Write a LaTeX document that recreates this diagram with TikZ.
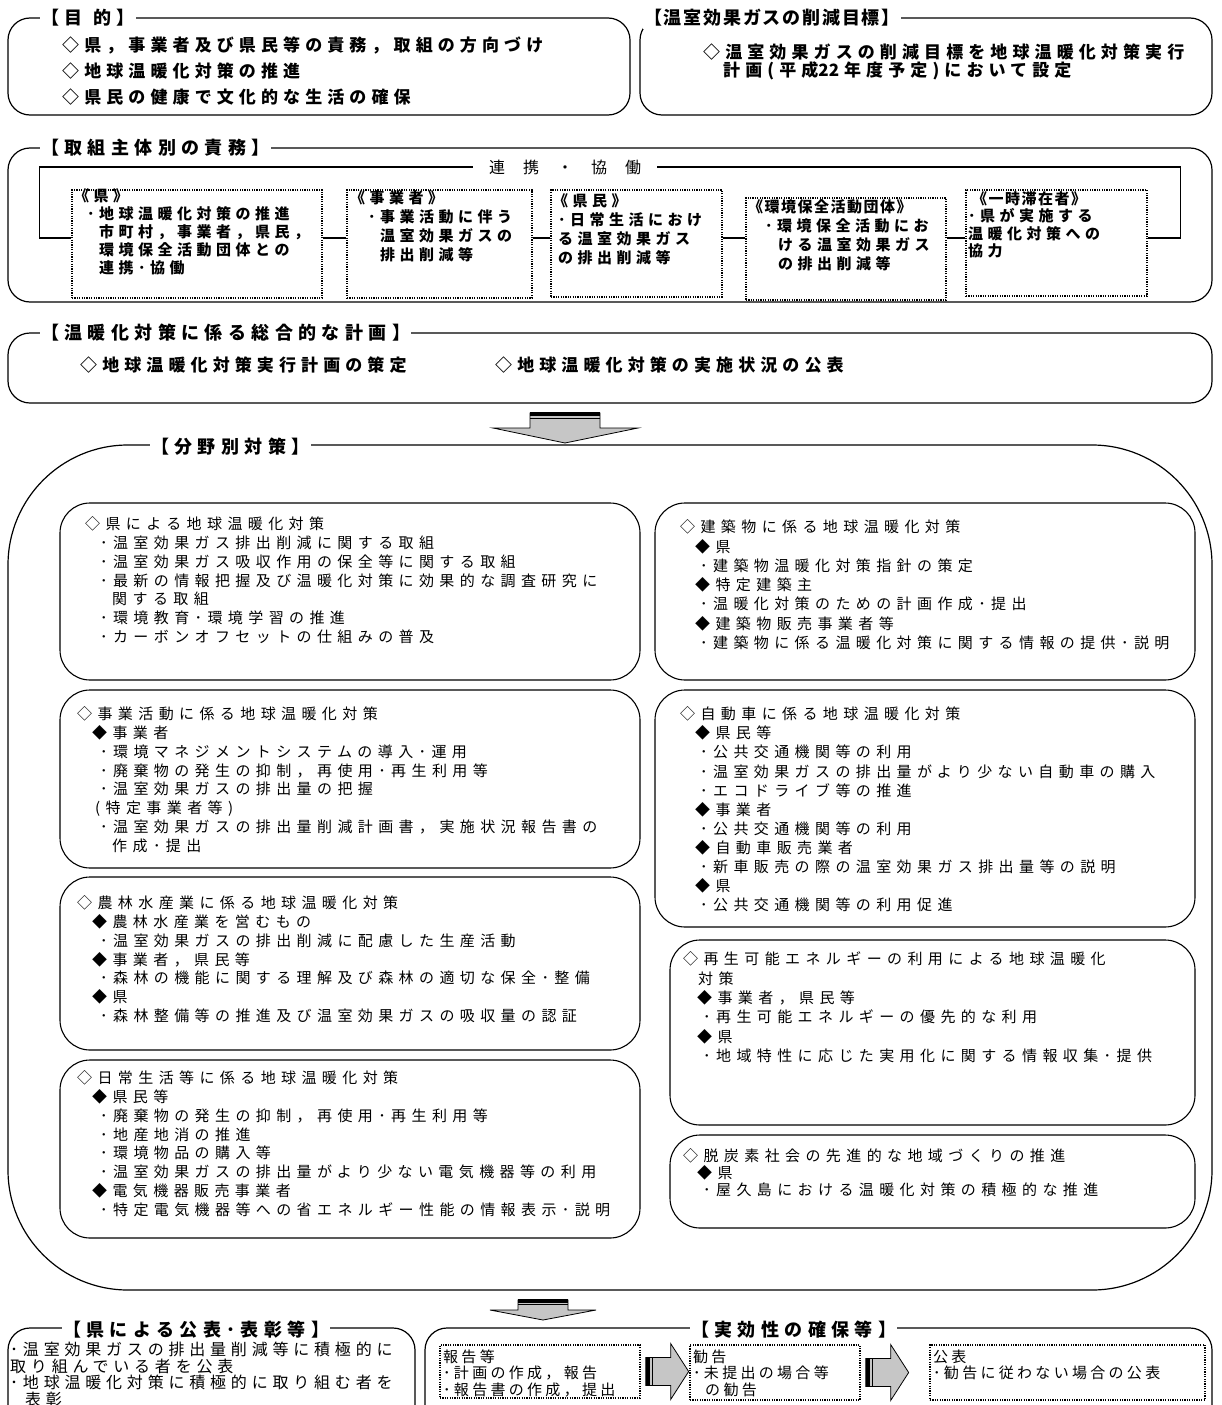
\documentclass[tikz,border=0pt]{standalone}
\usepackage{fontspec}
\setmainfont{Noto Sans CJK JP}
\newfontfamily\jpwide[LetterSpace=30]{Noto Sans CJK JP}
\newfontfamily\jpnarrow[LetterSpace=10]{Noto Sans CJK JP}
\newfontfamily\jpbody[LetterSpace=36]{Noto Sans CJK JP}
\newfontfamily\jpsmall[LetterSpace=22]{Noto Sans CJK JP}
\newfontfamily\jptight{Noto Sans CJK JP}
\usetikzlibrary{positioning,calc}
\tikzset{
  panel/.style={draw, line width=1.2pt, rounded corners=22pt, inner sep=0pt},
  bigpanel/.style={draw, line width=1.2pt, rounded corners=120pt, inner sep=0pt},
  sub/.style={draw, line width=1.1pt, rounded corners=30pt, inner sep=0pt},
  dotbox/.style={draw, line width=1.3pt, dash pattern=on 1.2pt off 1.2pt, inner sep=0pt},
  ttl/.style={fill=white, anchor=west, inner xsep=1pt, inner ysep=2pt,
    font=\jpwide\bfseries\fontsize{18}{20}\selectfont},
  headtxt/.style={anchor=north west, inner sep=0pt, align=left,
    font=\jpwide\bfseries\fontsize{17}{26}\selectfont},
  roletxt/.style={anchor=north west, inner sep=0pt, align=left,
    font=\jpwide\bfseries\fontsize{15}{18}\selectfont},
  bodytxt/.style={anchor=north west, inner sep=0pt, align=left,
    font=\jpbody\fontsize{15}{18.8}\selectfont},
  smalltxt/.style={anchor=north west, inner sep=0pt, align=left,
    font=\jpsmall\fontsize{15}{16.5}\selectfont},
  conn/.style={line width=1.2pt},
  blockarrow/.style={fill=gray!45, draw, line width=0.8pt, line join=miter},
}
% block arrow pointing right, tail at #1
\newcommand{\sidearrow}[1]{%
  \begin{scope}[shift={(#1)}]
    \filldraw[blockarrow] (5,-14) -- (30,-14) -- (30,-28) -- (48,0) -- (30,28) -- (30,14) -- (5,14) -- cycle;
    \fill (5,-14) rectangle (9.5,14);
    \draw[line width=0.8pt] (12,-14) -- (12,14);
  \end{scope}}

\begin{document}
\begin{tikzpicture}[x=1pt,y=-1pt]
\useasboundingbox (0,0) rectangle (1222,1405);
\clip (0,0) rectangle (1222,1405);

% ---------- purpose / target ----------
\node[panel, minimum width=622pt, minimum height=97pt] (aim) at (319,66.5) {};
\node[ttl] (aimttl) at (40,18) {【目\hspace{0.6em}的】\hspace{1.2em}};
\node[headtxt] (aimtxt) at (62,37)
  {◇県，事業者及び県民等の責務，取組の方向づけ\\◇地球温暖化対策の推進\\◇県民の健康で文化的な生活の確保};

\node[panel, minimum width=572pt, minimum height=97pt] (goal) at (926,66.5) {};
\node[ttl, font=\jpnarrow\bfseries\fontsize{18}{20}\selectfont] (goalttl) at (643,18)
  {【温室効果ガスの削減目標】\hspace{2.5em}};
\node[headtxt, font=\jpwide\bfseries\fontsize{17}{16}\selectfont] (goaltxt) at (703,43.5)
  {◇温室効果ガスの削減目標を地球温暖化対策実行\\\hspace*{20pt}計画(平成{\jptight 22}\hspace{5pt}年度予定)において設定};

% ---------- roles ----------
\node[panel, minimum width=1204pt, minimum height=154pt] (roles) at (610,225) {};
\node[ttl] (rolesttl) at (40,148) {【取組主体別の責務】};
\node[font=\fontsize{16}{18}\selectfont, inner xsep=16pt] (renkei) at (565,167)
  {連\hspace{18pt}携\hspace{18pt}・\hspace{18pt}協\hspace{18pt}働};

\node[dotbox, minimum width=250pt, minimum height=108pt] (pref)  at (197,244) {};
\node[dotbox, minimum width=185pt, minimum height=108pt] (biz)   at (439.5,244) {};
\node[dotbox, minimum width=171pt, minimum height=107pt] (cit)   at (636.5,243.5) {};
\node[dotbox, minimum width=200pt, minimum height=102pt] (env)   at (846,249) {};
\node[dotbox, minimum width=181pt, minimum height=106pt] (visit) at (1056.5,243) {};

\node[roletxt] (preftxt) at (74,188.5)
  {《県》\\\hspace*{13pt}･地球温暖化対策の推進\\\hspace*{25pt}市町村，事業者，県民，\\\hspace*{25pt}環境保全活動団体との\\\hspace*{25pt}連携･協働};
\node[roletxt, font=\jpwide\bfseries\fontsize{15}{19}\selectfont] (biztxt) at (350,190.5)
  {《事業者》\\\hspace*{18pt}･事業活動に伴う\\\hspace*{30pt}温室効果ガスの\\\hspace*{30pt}排出削減等};
\node[roletxt, font=\jpwide\bfseries\fontsize{15}{19}\selectfont] (cittxt) at (553,193.5)
  {《県民》\\\hspace*{5pt}･日常生活におけ\\\hspace*{5pt}る温室効果ガス\\\hspace*{5pt}の排出削減等};
\node[roletxt, font=\jpwide\bfseries\fontsize{15}{19}\selectfont] (envtxt) at (748,199.5)
  {{\jpnarrow《環境保全活動団体》}\\\hspace*{17pt}･環境保全活動にお\\\hspace*{30pt}ける温室効果ガス\\\hspace*{30pt}の排出削減等};
\node[roletxt, font=\jpwide\bfseries\fontsize{15}{17.3}\selectfont] (visittxt) at (968,191.5)
  {\hspace*{4pt}{\jpnarrow《一時滞在者》}\\･県が実施する\\温暖化対策への\\協力};

\coordinate (lane) at (0,238);
\draw[conn] (pref.east |- lane) -- (biz.west |- lane);
\draw[conn] (biz.east |- lane) -- (cit.west |- lane);
\draw[conn] (cit.east |- lane) -- (env.west |- lane);
\draw[conn] (env.east |- lane) -- (visit.west |- lane);
\draw[conn] (pref.west |- lane) -- ++(-32,0) |- (renkei.west);
\draw[conn] (visit.east |- lane) -- ++(33,0) |- (renkei.east);

% ---------- overall plan ----------
\node[panel, minimum width=1204pt, minimum height=70pt] (plan) at (610,368) {};
\node[ttl] (planttl) at (40,333) {【温暖化対策に係る総合的な計画】\hspace{1em}};
\node[headtxt] (plan1) at (80,357) {◇地球温暖化対策実行計画の策定};
\node[headtxt] (plan2) at (495,357) {◇地球温暖化対策の実施状況の公表};

% down arrow
\filldraw[blockarrow] (530,413) -- (600,413) -- (600,428) -- (638,428) -- (565,443) -- (493,428) -- (530,428) -- cycle;
\fill (530,412) rectangle (600,416);
\draw[line width=0.8pt] (530,418.5) -- (600,418.5);

% ---------- measures by field ----------
\node[bigpanel, minimum width=1204pt, minimum height=845pt] (fields) at (610,867.5) {};
\node[ttl] (fieldsttl) at (150,447) {【分野別対策】};

\node[sub, minimum width=580pt, minimum height=177pt] (prefm)  at (350,591.5) {};
\node[sub, minimum width=580pt, minimum height=178pt] (bizm)   at (350,779) {};
\node[sub, minimum width=580pt, minimum height=173pt] (agri)   at (350,963.5) {};
\node[sub, minimum width=580pt, minimum height=178pt] (life)   at (350,1149) {};
\node[sub, minimum width=540pt, minimum height=177pt] (bldg)   at (925,591.5) {};
\node[sub, minimum width=540pt, minimum height=237pt] (car)    at (925,808.5) {};
\node[sub, minimum width=525pt, minimum height=185pt] (renew)  at (932.5,1032.5) {};
\node[sub, minimum width=525pt, minimum height=93pt]  (decarb) at (932.5,1181.5) {};

\node[bodytxt] (prefmtxt) at (85,516.5)
  {◇県による地球温暖化対策\\
   \hspace*{15pt}･温室効果ガス排出削減に関する取組\\
   \hspace*{15pt}･温室効果ガス吸収作用の保全等に関する取組\\
   \hspace*{15pt}･最新の情報把握及び温暖化対策に効果的な調査研究に\\
   \hspace*{27pt}関する取組\\
   \hspace*{15pt}･環境教育･環境学習の推進\\
   \hspace*{15pt}･カーボンオフセットの仕組みの普及};
\node[bodytxt] (bizmtxt) at (77,706.5)
  {◇事業活動に係る地球温暖化対策\\
   \hspace*{15pt}◆事業者\\
   \hspace*{23pt}･環境マネジメントシステムの導入･運用\\
   \hspace*{23pt}･廃棄物の発生の抑制，再使用･再生利用等\\
   \hspace*{23pt}･温室効果ガスの排出量の把握\\
   \hspace*{18pt}(特定事業者等)\\
   \hspace*{23pt}･温室効果ガスの排出量削減計画書，実施状況報告書の\\
   \hspace*{35pt}作成･提出};
\node[bodytxt] (agritxt) at (77,895.5)
  {◇農林水産業に係る地球温暖化対策\\
   \hspace*{15pt}◆農林水産業を営むもの\\
   \hspace*{23pt}･温室効果ガスの排出削減に配慮した生産活動\\
   \hspace*{15pt}◆事業者，県民等\\
   \hspace*{23pt}･森林の機能に関する理解及び森林の適切な保全･整備\\
   \hspace*{15pt}◆県\\
   \hspace*{23pt}･森林整備等の推進及び温室効果ガスの吸収量の認証};
\node[bodytxt] (lifetxt) at (77,1070.5)
  {◇日常生活等に係る地球温暖化対策\\
   \hspace*{15pt}◆県民等\\
   \hspace*{23pt}･廃棄物の発生の抑制，再使用･再生利用等\\
   \hspace*{23pt}･地産地消の推進\\
   \hspace*{23pt}･環境物品の購入等\\
   \hspace*{23pt}･温室効果ガスの排出量がより少ない電気機器等の利用\\
   \hspace*{15pt}◆電気機器販売事業者\\
   \hspace*{23pt}･特定電気機器等への省エネルギー性能の情報表示･説明};
\node[bodytxt, font=\jpbody\fontsize{15}{19.3}\selectfont] (bldgtxt) at (680,519.5)
  {◇建築物に係る地球温暖化対策\\
   \hspace*{15pt}◆県\\
   \hspace*{20pt}･建築物温暖化対策指針の策定\\
   \hspace*{15pt}◆特定建築主\\
   \hspace*{20pt}･温暖化対策のための計画作成･提出\\
   \hspace*{15pt}◆建築物販売事業者等\\
   \hspace*{20pt}･建築物に係る温暖化対策に関する情報の提供･説明};
\node[bodytxt, font=\jpbody\fontsize{15}{19.1}\selectfont] (cartxt) at (680,706.5)
  {◇自動車に係る地球温暖化対策\\
   \hspace*{15pt}◆県民等\\
   \hspace*{20pt}･公共交通機関等の利用\\
   \hspace*{20pt}･温室効果ガスの排出量がより少ない自動車の購入\\
   \hspace*{20pt}･エコドライブ等の推進\\
   \hspace*{15pt}◆事業者\\
   \hspace*{20pt}･公共交通機関等の利用\\
   \hspace*{15pt}◆自動車販売業者\\
   \hspace*{20pt}･新車販売の際の温室効果ガス排出量等の説明\\
   \hspace*{15pt}◆県\\
   \hspace*{20pt}･公共交通機関等の利用促進};
\node[bodytxt, font=\jpbody\fontsize{15}{19.4}\selectfont] (renewtxt) at (683,951.5)
  {◇再生可能エネルギーの利用による地球温暖化\\
   \hspace*{15pt}対策\\
   \hspace*{14pt}◆事業者，県民等\\
   \hspace*{20pt}･再生可能エネルギーの優先的な利用\\
   \hspace*{14pt}◆県\\
   \hspace*{20pt}･地域特性に応じた実用化に関する情報収集･提供};
\node[bodytxt, font=\jpbody\fontsize{15}{17}\selectfont] (decarbtxt) at (683,1148.5)
  {◇脱炭素社会の先進的な地域づくりの推進\\
   \hspace*{14pt}◆県\\
   \hspace*{20pt}･屋久島における温暖化対策の積極的な推進};

% down arrow
\filldraw[blockarrow] (518,1300) -- (568,1300) -- (568,1310) -- (596,1310) -- (543,1320) -- (490,1310) -- (518,1310) -- cycle;
\fill (518,1299) rectangle (568,1302.5);
\draw[line width=0.8pt] (518,1304.5) -- (568,1304.5);

% ---------- publication / effectiveness ----------
\node[panel, minimum width=407pt, minimum height=110pt] (award) at (211.5,1383) {};
\node[ttl] (awardttl) at (62,1330) {【県による公表･表彰等】\hspace{1.5em}};
\node[smalltxt, font=\jpwide\fontsize{16}{16.5}\selectfont] (awardtxt) at (10,1342)
  {･温室効果ガスの排出量削減等に積極的に\\取り組んでいる者を公表\\･地球温暖化対策に積極的に取り組む者を\\\hspace*{15pt}表彰};

\node[panel, minimum width=787pt, minimum height=110pt] (effect) at (818.5,1383) {};
\node[ttl] (effectttl) at (690,1330) {【実効性の確保等】\hspace{0.5em}};

\node[dotbox, minimum width=200pt, minimum height=53pt] (rep)  at (540,1371.5) {};
\node[dotbox, minimum width=170pt, minimum height=55pt] (adv)  at (775,1372.5) {};
\node[dotbox, minimum width=275pt, minimum height=55pt] (pubb) at (1067.5,1372.5) {};

\node[smalltxt] (reptxt)  at (443,1349.5) {報告等\\･計画の作成，報告\\･報告書の作成，提出};
\node[smalltxt] (advtxt)  at (693,1349.5) {勧告\\･未提出の場合等\\\hspace*{12pt}の勧告};
\node[smalltxt] (pubbtxt) at (933,1349.5) {公表\\･勧告に従わない場合の公表};

\sidearrow{rep.east}
\sidearrow{adv.east}

\end{tikzpicture}
\end{document}
